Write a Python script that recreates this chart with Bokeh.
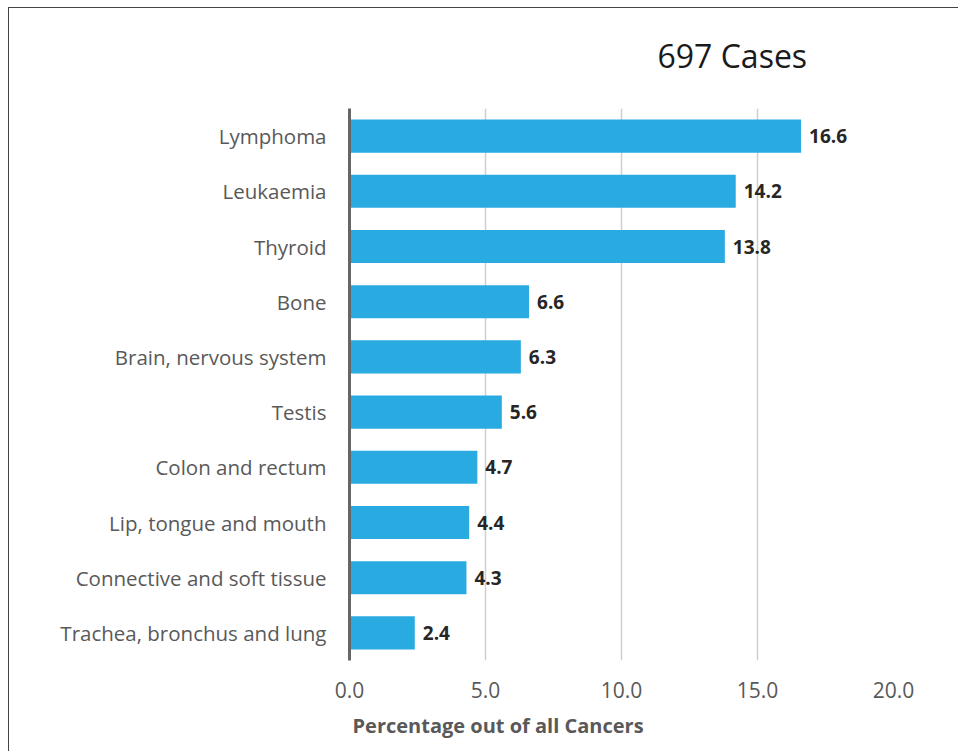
from bokeh.plotting import figure
from bokeh.models import FactorRange, ColumnDataSource, Title, FixedTicker, LabelSet, Range1d
from bokeh.core.properties import value
from bokeh.embed import file_html
from bokeh.resources import INLINE

categories = ["Lymphoma", "Leukaemia", "Thyroid", "Bone", "Brain, nervous system",
              "Testis", "Colon and rectum", "Lip, tongue and mouth",
              "Connective and soft tissue", "Trachea, bronchus and lung"]
percentages = [16.6, 14.2, 13.8, 6.6, 6.3, 5.6, 4.7, 4.4, 4.3, 2.4]
x_ticks = [0, 5, 10, 15, 20]
title_text = "697 Cases"
x_label = "Percentage out of all Cancers"

FONT = "Open Sans"

src = ColumnDataSource(dict(cat=categories, val=percentages,
                            lab=["%.1f" % v for v in percentages]))

p = figure(width=958, height=751, output_backend="svg", toolbar_location=None,
           y_range=FactorRange(factors=list(reversed(categories))),
           x_range=Range1d(0, 20),
           min_border_left=349, min_border_right=65,
           min_border_top=107, min_border_bottom=91)

p.hbar(y="cat", right="val", left=0, height=0.6, source=src,
       fill_color="#29ABE2", line_color=None)

labels = LabelSet(x="val", y="cat", text="lab", source=src, x_offset=8,
                  text_font=value(FONT), text_font_style="bold",
                  text_font_size="19px", text_color="#262626",
                  text_baseline="middle", text_align="left")
p.add_layout(labels)

p.outline_line_color = None
p.border_fill_color = None
p.ygrid.grid_line_color = None
p.xgrid.grid_line_color = "#cfcfcf"
p.xgrid.grid_line_width = 1.5
p.xgrid.ticker = FixedTicker(ticks=x_ticks)

p.xaxis.ticker = FixedTicker(ticks=x_ticks)
p.xaxis.major_label_overrides = {t: "%.1f" % t for t in x_ticks}
p.xaxis.axis_line_color = None
p.xaxis.major_tick_line_color = None
p.xaxis.minor_tick_line_color = None
p.xaxis.major_label_standoff = 15
p.xaxis.major_label_text_font = FONT
p.xaxis.major_label_text_font_size = "21px"
p.xaxis.major_label_text_color = "#595959"

p.yaxis.axis_line_color = "#666666"
p.yaxis.axis_line_width = 3
p.yaxis.major_tick_line_color = None
p.yaxis.minor_tick_line_color = None
p.yaxis.major_label_standoff = 17
p.yaxis.major_label_text_font = FONT
p.yaxis.major_label_text_font_size = "20.5px"
p.yaxis.major_label_text_color = "#595959"

p.title = Title(text=title_text, align="left", offset=308, standoff=63,
                text_font=FONT, text_font_size="32px", text_font_style="normal",
                text_color="#1a1a1a")

p.add_layout(Title(text=x_label, align="left", offset=3, standoff=18,
                   text_font=FONT, text_font_size="20px", text_font_style="bold",
                   text_color="#595959"), "below")

p.styles = {
    "background-color": "white",
    "background-image": "linear-gradient(#444444, #444444), linear-gradient(#444444, #444444)",
    "background-size": "1px 100%, 100% 1px",
    "background-position": "8px 7px, 8px 7px",
    "background-repeat": "no-repeat",
}

open("out.html", "w").write(file_html(p, INLINE))
